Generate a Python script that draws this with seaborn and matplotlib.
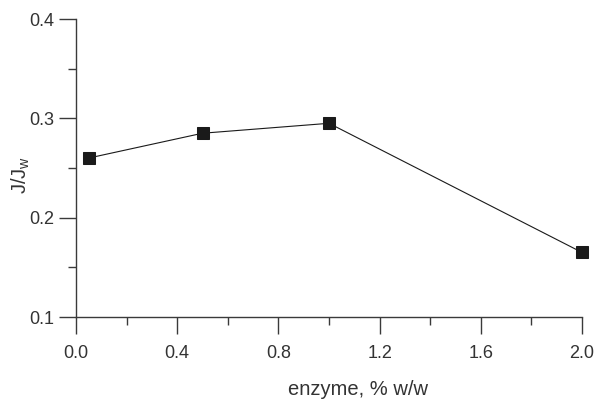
import matplotlib
matplotlib.use("Agg")
import matplotlib.pyplot as plt
from matplotlib.ticker import MultipleLocator
import seaborn as sns
import pandas as pd

enzyme = [0.05, 0.5, 1.0, 2.0]
flux_ratio = [0.26, 0.285, 0.295, 0.165]
x_ticks = [0.0, 0.4, 0.8, 1.2, 1.6, 2.0]
y_ticks = [0.1, 0.2, 0.3, 0.4]

df = pd.DataFrame({"enzyme": enzyme, "ratio": flux_ratio})

sns.set_theme(style="ticks")
plt.rcParams["font.family"] = ["Liberation Sans", "DejaVu Sans"]

fig = plt.figure(figsize=(5.94, 3.99), dpi=100)
ax = fig.add_axes([76 / 594, 82 / 399, 506 / 594, 298 / 399])

sns.lineplot(data=df, x="enzyme", y="ratio", ax=ax, color="#1a1a1a",
             linewidth=0.8, marker="s", markersize=9, markeredgecolor="#1a1a1a",
             markerfacecolor="#1a1a1a", clip_on=False)

ax.set_xlim(0.0, 2.0)
ax.set_ylim(0.1, 0.4)
ax.set_xticks(x_ticks)
ax.set_xticklabels([f"{v:.1f}" for v in x_ticks])
ax.set_yticks(y_ticks)
ax.set_yticklabels([f"{v:.1f}" for v in y_ticks])
ax.xaxis.set_minor_locator(MultipleLocator(0.2))
ax.yaxis.set_minor_locator(MultipleLocator(0.05))

for s in ("top", "right"):
    ax.spines[s].set_visible(False)
for s in ("left", "bottom"):
    ax.spines[s].set_color("#3a3a3a")
    ax.spines[s].set_linewidth(1.0)

ax.tick_params(which="major", length=12, width=1.0, color="#3a3a3a",
               labelsize=13, labelcolor="#333333")
ax.tick_params(axis="y", which="major", pad=4)
ax.tick_params(axis="x", which="major", pad=8)
ax.tick_params(which="minor", length=6, width=1.0, color="#3a3a3a")

ax.set_xlabel("enzyme, % w/w", fontsize=14.5, color="#333333")
ax.xaxis.set_label_coords(0.557, -0.21)
ax.set_ylabel(r"J/J$_\mathregular{w}$", fontsize=14.5, color="#333333")
ax.yaxis.set_label_coords(-0.087, 0.477)

fig.savefig("out.png", dpi=100)
